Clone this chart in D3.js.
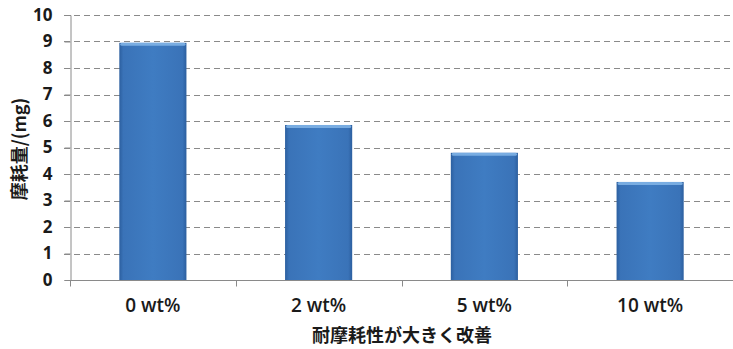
<!DOCTYPE html>
<html><head><meta charset="utf-8">
<script src="https://cdn.jsdelivr.net/npm/d3@7/dist/d3.min.js"></script>
<style>
html,body{margin:0;padding:0;background:#fff;}
svg{display:block;font-family:"Noto Sans CJK JP","Noto Sans",sans-serif;}
</style></head>
<body>
<svg id="chart" width="733" height="349"></svg>
<script>
// Wear amount per additive loading
const categories = ["0 wt%", "2 wt%", "5 wt%", "10 wt%"];
const wearValues = [8.95, 5.85, 4.8, 3.7];
const yTicks = [0,1,2,3,4,5,6,7,8,9,10];
const yTitle = "摩耗量/(mg)";
const xTitle = "耐摩耗性が大きく改善";

const svg = d3.select("#chart");
const margin = {left: 70, right: 0, top: 15, bottom: 69};
const W = 733, H = 349;

const x = d3.scaleBand().domain(categories).range([margin.left, W - margin.right]).padding(0);
const y = d3.scaleLinear().domain([0, 10]).range([H - margin.bottom, margin.top]);

const defs = svg.append("defs");
const g1 = defs.append("linearGradient").attr("id", "barH").attr("x1", 0).attr("x2", 1).attr("y1", 0).attr("y2", 0);
g1.append("stop").attr("offset", "0%").attr("stop-color", "#2c5f9f");
g1.append("stop").attr("offset", "6%").attr("stop-color", "#3a73b8");
g1.append("stop").attr("offset", "50%").attr("stop-color", "#3f7cc2");
g1.append("stop").attr("offset", "94%").attr("stop-color", "#3a73b8");
g1.append("stop").attr("offset", "100%").attr("stop-color", "#2c5f9f");

// Dashed gridlines
svg.append("g").selectAll("line").data(yTicks.filter(d => d > 0)).join("line")
  .attr("x1", margin.left - 6).attr("x2", W)
  .attr("y1", d => Math.round(y(d)) + 0.5).attr("y2", d => Math.round(y(d)) + 0.5)
  .attr("stroke", "#8a8a8a").attr("stroke-width", 1).attr("stroke-dasharray", "6,4");

// Y axis
const yAxis = svg.append("g").attr("transform", `translate(${margin.left + 0.5},0)`)
  .call(d3.axisLeft(y).tickValues(yTicks).tickSize(6).tickFormat(d3.format("d")));
yAxis.select(".domain").attr("stroke", "#8a8a8a");
yAxis.selectAll(".tick line").attr("stroke", "#8a8a8a");
yAxis.selectAll(".tick text").attr("x", -18).attr("font-size", 17).attr("font-weight", "bold")
  .attr("fill", "#1a1a1a").attr("font-family", "'Open Sans','Noto Sans',sans-serif");

// Bars
const bw = x.bandwidth() * 0.405;
const bars = svg.append("g").selectAll("g").data(categories).join("g");
bars.append("rect")
  .attr("x", d => x(d) + (x.bandwidth() - bw) / 2)
  .attr("y", (d, i) => y(wearValues[i]))
  .attr("width", bw)
  .attr("height", (d, i) => y(0) - y(wearValues[i]))
  .attr("fill", "url(#barH)");
bars.append("rect")
  .attr("x", d => x(d) + (x.bandwidth() - bw) / 2 + 1)
  .attr("y", (d, i) => y(wearValues[i]))
  .attr("width", bw - 2)
  .attr("height", 3)
  .attr("rx", 1.5)
  .attr("fill", "#7fb2e6").attr("opacity", 0.9);

// X axis
const xAxis = svg.append("g").attr("transform", `translate(0,${y(0) + 0.5})`);
xAxis.append("line").attr("x1", margin.left).attr("x2", W).attr("stroke", "#8a8a8a");
xAxis.selectAll("line.tk").data(categories.slice(1)).join("line").attr("class", "tk")
  .attr("x1", d => Math.round(x(d)) + 0.5).attr("x2", d => Math.round(x(d)) + 0.5)
  .attr("y1", 0).attr("y2", 6).attr("stroke", "#8a8a8a");
xAxis.append("line").attr("x1", margin.left + 0.5).attr("x2", margin.left + 0.5).attr("y1", 0).attr("y2", 6).attr("stroke", "#8a8a8a");
xAxis.selectAll("text").data(categories).join("text")
  .attr("x", d => x(d) + x.bandwidth() / 2)
  .attr("y", 31.5)
  .attr("text-anchor", "middle")
  .attr("font-size", 19).attr("font-weight", 600).attr("fill", "#1a1a1a")
  .attr("font-family", "'Open Sans','Noto Sans',sans-serif")
  .text(d => d);

// Titles
svg.append("text").attr("x", 402).attr("y", 342).attr("text-anchor", "middle")
  .attr("font-size", 18).attr("font-weight", "bold").attr("fill", "#1a1a1a").text(xTitle);
svg.append("text").attr("transform", "translate(26,149) rotate(-90)").attr("text-anchor", "middle")
  .attr("font-size", 18).attr("font-weight", "bold").attr("fill", "#1a1a1a").text(yTitle);
</script>
</body></html>
